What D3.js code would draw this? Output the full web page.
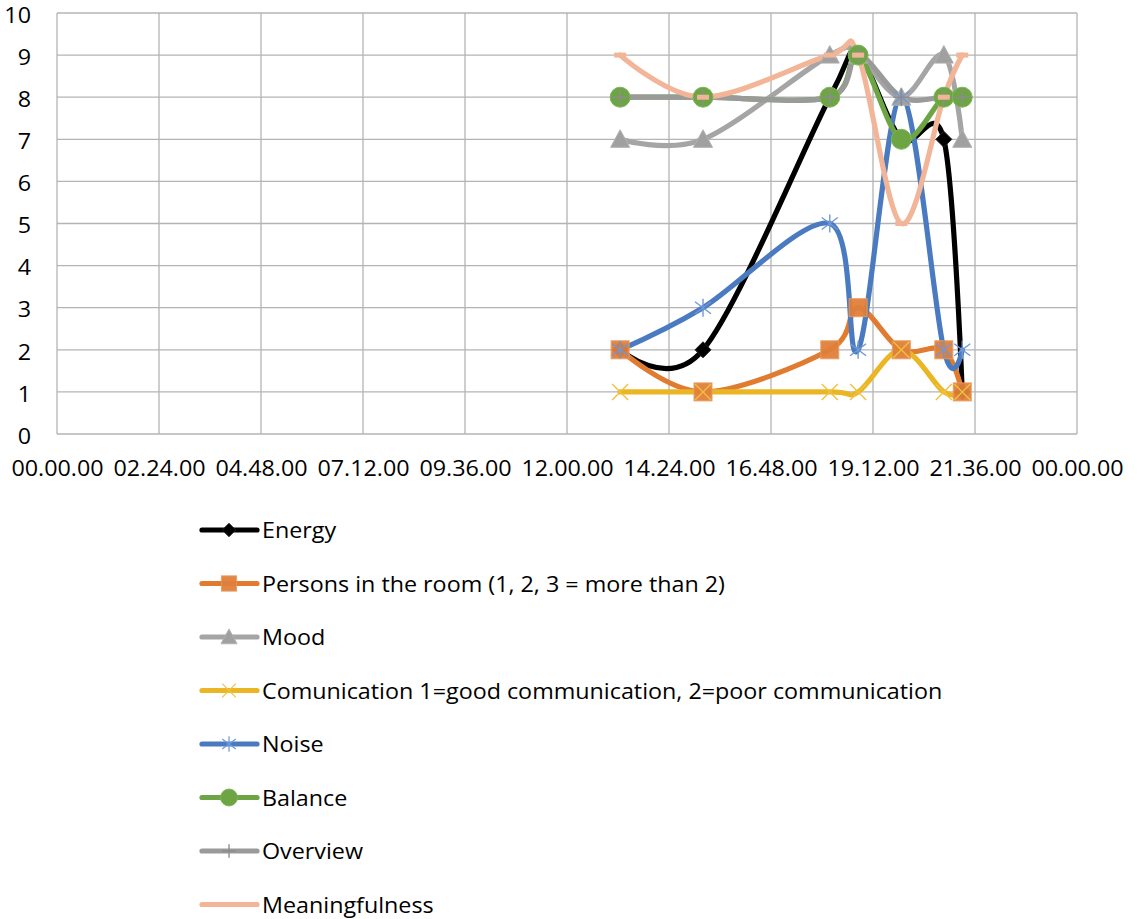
<!DOCTYPE html>
<html><head><meta charset="utf-8">
<script src="https://cdn.jsdelivr.net/npm/d3@7/dist/d3.min.js"></script>
<style>body{margin:0;background:#fff;}svg{display:block;}text{font-family:"Open Sans",sans-serif;fill:#000;}</style>
</head><body><div id="chart"></div>
<script>
// ---- data ----
const times = ["13.15","15.12","18.11","18.51","19.52","20.52","21.18"];
const energy = [2,2,8,9,7,7,1];
const persons = [2,1,2,3,2,2,1];
const mood = [7,7,9,9,8,9,7];
const communication = [1,1,1,1,2,1,1];
const noise = [2,3,5,2,8,2,2];
const balance = [8,8,8,9,7,8,8];
const overview = [8,8,8,9,8,8,8];
const meaningfulness = [9,8,9,9,5,8,9];
const seriesNames = ["Energy","Persons in the room (1, 2, 3 = more than 2)","Mood",
  "Comunication 1=good communication, 2=poor communication","Noise","Balance","Overview","Meaningfulness"];
const xTickLabels = ["00.00.00","02.24.00","04.48.00","07.12.00","09.36.00","12.00.00","14.24.00","16.48.00","19.12.00","21.36.00","00.00.00"];
const yTicks = [0,1,2,3,4,5,6,7,8,9,10];

const seriesValues = [energy,persons,mood,communication,noise,balance,overview,meaningfulness];
const colors = ["#000000","#E07B30","#A5A5A5","#EAB623","#4A7ABF","#6DA544","#9A9A9A","#F3B598"];
const markerTypes = ["diamond","square","triangle","x","star","circle","plus","dash"];
const markerColors = ["#000000","#E0803A","#A0A0A0","#F0C040","#6F98D8","#6DA544","#8C8C8C","#F3B598"];

const W = 1137, H = 919;
const plotL = 57, plotR = 1077, plotT = 13, plotB = 434;
const SX = 1.11; // horizontal text stretch
const toHours = s => { const [h,m] = s.split(".").map(Number); return h + m/60; };
const hrs = times.map(toHours);

const x = d3.scaleLinear().domain([0,24]).range([plotL,plotR]);
const y = d3.scaleLinear().domain([0,10]).range([plotB,plotT]);

const svg = d3.select("#chart").append("svg").attr("width",W).attr("height",H);

// grid
const g = svg.append("g");
g.selectAll("line.h").data(yTicks).join("line")
  .attr("x1",plotL).attr("x2",plotR).attr("y1",d=>y(d)).attr("y2",d=>y(d))
  .attr("stroke","#B4B4B4").attr("stroke-width",1.3);
const xTicks = xTickLabels.map((d,i)=>i*2.4);
g.selectAll("line.v").data(xTicks).join("line")
  .attr("y1",plotT).attr("y2",plotB).attr("x1",d=>x(d)).attr("x2",d=>x(d))
  .attr("stroke","#B4B4B4").attr("stroke-width",1.3);

// axes labels via d3 axes
const yAxis = d3.axisLeft(y).tickValues(yTicks).tickSize(0).tickPadding(26).tickFormat(d3.format("d"));
svg.append("g").attr("transform",`translate(${plotL},2.5)`).call(yAxis)
  .call(a=>a.select(".domain").remove())
  .selectAll("text").attr("x",-26/SX).attr("transform",`scale(${SX},1)`)
  .style("font-family","'Open Sans',sans-serif").style("font-size","21px").attr("fill","#000");
const xAxis = d3.axisBottom(x).tickValues(xTicks).tickSize(0).tickPadding(27).tickFormat((d,i)=>xTickLabels[i]);
svg.append("g").attr("transform",`translate(0,${plotB})`).call(xAxis)
  .call(a=>a.select(".domain").remove())
  .selectAll("text").attr("transform",`scale(${SX},1)`)
  .style("font-family","'Open Sans',sans-serif").style("font-size","21px").attr("fill","#000");

// lines
const line = d3.line().curve(d3.curveCatmullRom.alpha(0)).x(d=>x(d[0])).y(d=>y(d[1]));
const linesG = svg.append("g");
seriesValues.forEach((vals,i)=>{
  linesG.append("path").datum(vals.map((v,j)=>[hrs[j],v]))
    .attr("d",line).attr("fill","none").attr("stroke",colors[i])
    .attr("stroke-width",5.2).attr("stroke-linecap","round").attr("stroke-linejoin","round");
});

function drawMarker(sel,type,cx,cy,col,scale){
  const s = scale||1;
  const gm = sel.append("g").attr("transform",`translate(${cx},${cy}) scale(${s})`);
  switch(type){
    case "diamond": gm.append("path").attr("d","M0,-8L8,0L0,8L-8,0Z").attr("fill",col).attr("stroke","#222").attr("stroke-width",1); break;
    case "square": gm.append("rect").attr("x",-9).attr("y",-9).attr("width",18).attr("height",18).attr("fill",col).attr("stroke","#E99A5E").attr("stroke-width",1).attr("opacity",0.95); break;
    case "triangle": gm.append("path").attr("d","M0,-9.5L9.5,8L-9.5,8Z").attr("fill",col).attr("stroke","#B0B0B0").attr("stroke-width",1); break;
    case "x": gm.append("path").attr("d","M-8,-8L8,8M-8,8L8,-8").attr("stroke",col).attr("stroke-width",1.4).attr("fill","none"); break;
    case "star": gm.append("path").attr("d","M0,-9L0,9M-8,-6L8,6M-8,6L8,-6").attr("stroke",col).attr("stroke-width",1.4).attr("fill","none"); break;
    case "circle": gm.append("circle").attr("r",10).attr("fill",col).attr("stroke","#7DB558").attr("stroke-width",1); break;
    case "plus": gm.append("path").attr("d","M0,-8L0,8M-8,0L8,0").attr("stroke",col).attr("stroke-width",1.6).attr("fill","none"); break;
    case "dash": gm.append("path").attr("d","M-6,0L6,0").attr("stroke",col).attr("stroke-width",5).attr("fill","none"); break;
  }
}
const markersG = svg.append("g");
seriesValues.forEach((vals,i)=>{
  vals.forEach((v,j)=>drawMarker(markersG,markerTypes[i],x(hrs[j]),y(v),markerColors[i]));
});

// legend
const legend = svg.append("g");
const legY0 = 530, legStep = 53.5;
seriesNames.forEach((name,i)=>{
  const cy = legY0 + i*legStep;
  legend.append("line").attr("x1",202).attr("x2",257).attr("y1",cy).attr("y2",cy)
    .attr("stroke",colors[i]).attr("stroke-width",5.2).attr("stroke-linecap","round");
  drawMarker(legend,markerTypes[i],229,cy,markerColors[i],0.85);
  legend.append("text").attr("x",262/SX).attr("y",cy+0.5).attr("dy","0.36em")
    .attr("transform",`scale(${SX},1)`)
    .style("font-size","21px").text(name);
});
</script></body></html>
